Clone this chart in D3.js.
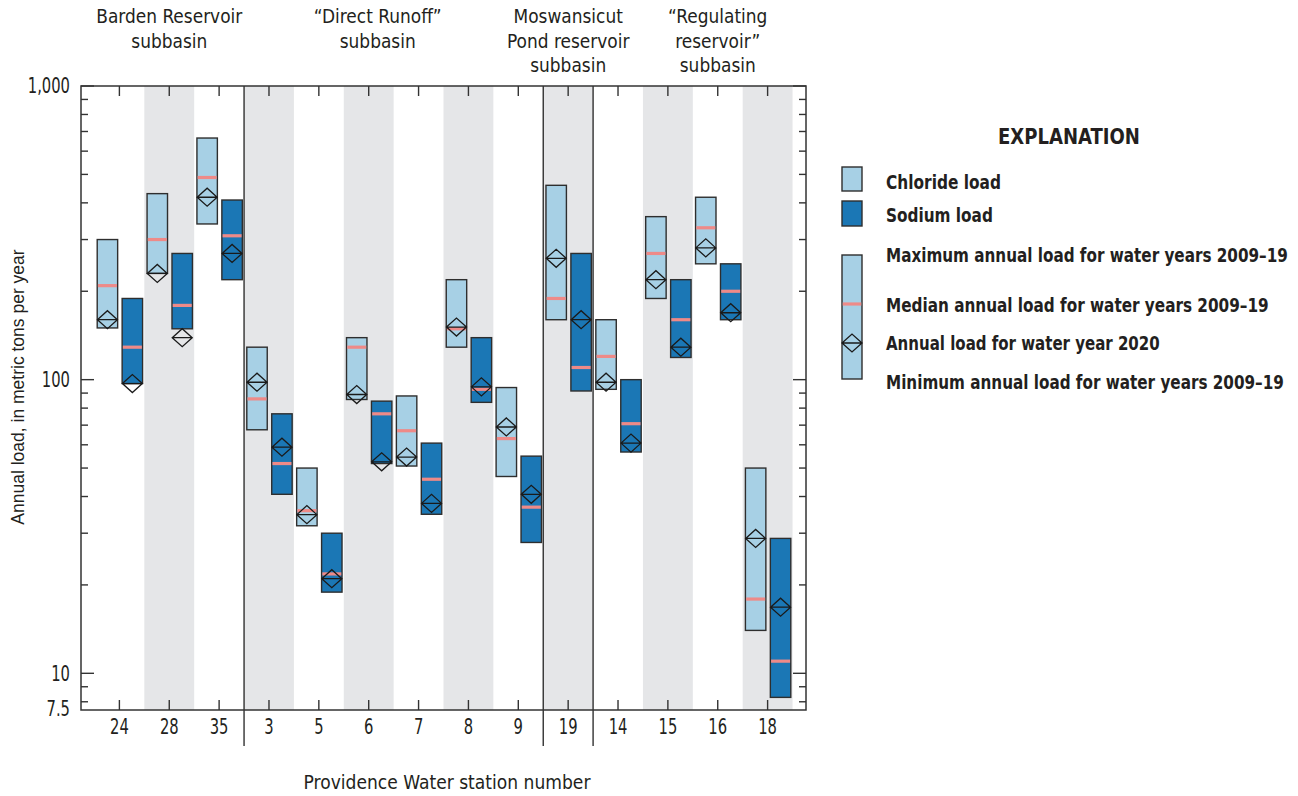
<!DOCTYPE html>
<html>
<head>
<meta charset="utf-8">
<script src="https://cdn.jsdelivr.net/npm/d3@7"></script>
<style>
  html, body { margin: 0; padding: 0; background: #fff; }
  svg { display: block; }
  text { font-family: "Liberation Sans Narrow", "DejaVu Sans Condensed", "Arial Narrow", sans-serif; fill: #231f20; }
  text.plain { font-family: "Liberation Sans", Arial, sans-serif; }
</style>
</head>
<body>
<svg id="chart" width="1298" height="796"></svg>
<script>
// Providence Water stations, in plotting order
const stations = ["24", "28", "35", "3", "5", "6", "7", "8", "9", "19", "14", "15", "16", "18"];

// Chloride load, metric tons per year
const chlorideMax    = [300, 430, 665, 129, 50, 139, 88, 219, 94, 459, 160, 359, 418, 50];
const chlorideMedian = [209, 300, 488, 86, 35.8, 129, 67, 149, 63, 189, 120, 269, 329, 17.9];
const chlorideMin    = [150, 230, 339, 67.5, 31.8, 85.6, 50.8, 129, 46.8, 160, 92.7, 189, 248, 14];
const chloride2020   = [160, 230, 418, 98, 34.7, 89, 54.5, 151, 69, 259, 98, 219, 281, 28.8];

// Sodium load, metric tons per year
const sodiumMax    = [189, 269, 409, 76.5, 30, 84.5, 60.8, 139, 54.9, 269, 100, 219, 248, 28.8];
const sodiumMedian = [129, 179, 309, 51.8, 21.8, 76.5, 45.8, 92.7, 36.8, 110, 70.8, 160, 200, 11];
const sodiumMin    = [97, 149, 219, 40.7, 18.9, 51.8, 34.8, 83.7, 27.9, 91.5, 56.7, 119, 160, 8.28];
const sodium2020   = [97, 139, 269, 58.9, 21, 52.5, 37.9, 94.5, 40.7, 160, 60.8, 129, 169, 16.8];

// Subbasin groupings
const subbasinNames  = [["Barden Reservoir", "subbasin"], ["\u201CDirect Runoff\u201D", "subbasin"],
                        ["Moswansicut", "Pond reservoir", "subbasin"], ["\u201CRegulating", "reservoir\u201D", "subbasin"]];
const subbasinFirst  = ["24", "3", "19", "14"];
const subbasinLabelAt = ["28", "6", "19", "16"];

// Y axis ticks
const yMajorTicks = [10, 100, 1000];
const yTickLabels = ["10", "100", "1,000"];
const yBottom = 7.5;

const C = {
  chloride: "#a7d0e5",
  sodium: "#1b77b5",
  stroke: "#2e2e2e",
  band: "#e5e6e8",
  median: "#ee8a88",
  axis: "#333333"
};

// Place a text at (px, py) and squeeze it horizontally, either by a factor
// or down to a given width, so a condensed face is imitated.
function place(textSel, px, py, opts) {
  textSel.attr("x", 0).attr("y", 0);
  const w = textSel.node().getComputedTextLength();
  const s = opts.width ? opts.width / w : (opts.k || 1);
  textSel.attr("transform", `translate(${px},${py}) scale(${s},1)`);
  return textSel;
}

const svg = d3.select("#chart");
const m = { left: 81, right: 806, top: 86, bottom: 710 };

const x = d3.scaleBand().domain(stations).range([m.left, m.right]).paddingInner(0).paddingOuter(0.27);
const y = d3.scaleLog().domain([yBottom, 1000]).range([m.bottom, m.top]);
const step = x.step();
const cx = s => x(s) + step / 2;
const boxW = step * 0.41;

// Alternating shaded bands
svg.append("g").selectAll("rect").data(stations.filter((s, i) => i % 2 === 1)).join("rect")
  .attr("x", s => x(s)).attr("y", m.top)
  .attr("width", step).attr("height", m.bottom - m.top)
  .attr("fill", C.band);

// Subbasin separators
const sepG = svg.append("g");
subbasinFirst.slice(1).forEach(s => {
  const sx = x(s);
  sepG.append("line").attr("x1", sx).attr("x2", sx).attr("y1", m.top).attr("y2", 746)
    .attr("stroke", "#222").attr("stroke-width", 1.3);
});

// Axis ticks, all pointing inward
const tickG = svg.append("g").attr("stroke", C.axis).attr("stroke-width", 1.4);
const minorTicks = [];
[1, 10, 100].forEach(d => { for (let k = 2; k <= 9; k++) { const v = d * k; if (v > yBottom && v < 1000 && !yMajorTicks.includes(v)) minorTicks.push(v); } });
minorTicks.forEach(v => {
  tickG.append("line").attr("x1", m.left).attr("x2", m.left + 7).attr("y1", y(v)).attr("y2", y(v));
  tickG.append("line").attr("x1", m.right).attr("x2", m.right - 7).attr("y1", y(v)).attr("y2", y(v));
});
yMajorTicks.forEach(v => {
  tickG.append("line").attr("x1", m.left).attr("x2", m.left + 13).attr("y1", y(v)).attr("y2", y(v));
  tickG.append("line").attr("x1", m.right).attr("x2", m.right - 13).attr("y1", y(v)).attr("y2", y(v));
});
stations.forEach(s => {
  tickG.append("line").attr("x1", cx(s)).attr("x2", cx(s)).attr("y1", m.top).attr("y2", m.top + 10);
  tickG.append("line").attr("x1", cx(s)).attr("x2", cx(s)).attr("y1", m.bottom).attr("y2", m.bottom - 10);
});

// Y tick labels
const yLab = svg.append("g").attr("font-size", 20.5).attr("text-anchor", "end");
yMajorTicks.forEach((v, i) => {
  place(yLab.append("text").attr("dy", "0.36em").text(yTickLabels[i]), 70, y(v), { k: 0.8 });
});
place(yLab.append("text").attr("dy", "0.36em").text("7.5"), 70, y(yBottom) - 1, { k: 0.8 });

// X tick labels
const xLab = svg.append("g").attr("font-size", 20.5).attr("text-anchor", "middle");
stations.forEach(s => place(xLab.append("text").text(s), cx(s), 734, { k: 0.8 }));

// Box groups: max–min range, median bar, 2020 diamond
function drawSeries(maxA, medA, minA, v2020, fill, offset) {
  const g = svg.append("g");
  stations.forEach((s, i) => {
    const bx = cx(s) + offset * step - boxW / 2;
    g.append("rect")
      .attr("x", bx).attr("y", y(maxA[i]))
      .attr("width", boxW).attr("height", y(minA[i]) - y(maxA[i]))
      .attr("fill", fill).attr("stroke", C.stroke).attr("stroke-width", 1.4);
    g.append("line")
      .attr("x1", bx + 0.7).attr("x2", bx + boxW - 0.7)
      .attr("y1", y(medA[i])).attr("y2", y(medA[i]))
      .attr("stroke", C.median).attr("stroke-width", 3.2);
    const dx = cx(s) + offset * step, dy = y(v2020[i]);
    g.append("path")
      .attr("d", `M${dx - 10},${dy}L${dx},${dy - 9}L${dx + 10},${dy}L${dx},${dy + 9}Z M${dx - 10},${dy}L${dx + 10},${dy}`)
      .attr("fill", "none").attr("stroke", "#1a1a1a").attr("stroke-width", 1.3);
  });
}
drawSeries(chlorideMax, chlorideMedian, chlorideMin, chloride2020, C.chloride, -0.24);
drawSeries(sodiumMax, sodiumMedian, sodiumMin, sodium2020, C.sodium, 0.26);

// Plot frame
svg.append("rect").attr("x", m.left).attr("y", m.top)
  .attr("width", m.right - m.left).attr("height", m.bottom - m.top)
  .attr("fill", "none").attr("stroke", C.axis).attr("stroke-width", 1.5);

// Subbasin headings
const headG = svg.append("g").attr("font-size", 19.5).attr("text-anchor", "middle");
const headOffsets = [0, 9, 0, 0];
subbasinNames.forEach((lines, i) => {
  const hx = cx(subbasinLabelAt[i]) + headOffsets[i];
  lines.forEach((t, j) => place(headG.append("text").text(t), hx, 23 + j * 24.5, { k: 0.97 }));
});

// Axis titles
svg.append("text").attr("class", "plain").attr("font-size", 17.5).attr("text-anchor", "middle")
  .attr("transform", "translate(24,387) rotate(-90)")
  .text("Annual load, in metric tons per year");
place(svg.append("text").attr("font-size", 19.5).attr("text-anchor", "middle")
  .text("Providence Water station number"), 447, 789, { width: 287 });

// Explanation
const lg = svg.append("g").attr("font-weight", "bold");
place(lg.append("text").attr("font-size", 21.5).text("EXPLANATION"), 998, 144, { width: 142 });
lg.append("rect").attr("x", 842).attr("y", 167).attr("width", 20).attr("height", 24)
  .attr("fill", C.chloride).attr("stroke", C.stroke).attr("stroke-width", 1.4);
lg.append("rect").attr("x", 842).attr("y", 201).attr("width", 20).attr("height", 25)
  .attr("fill", C.sodium).attr("stroke", C.stroke).attr("stroke-width", 1.4);
lg.append("rect").attr("x", 842).attr("y", 255).attr("width", 20).attr("height", 124)
  .attr("fill", C.chloride).attr("stroke", C.stroke).attr("stroke-width", 1.4);
lg.append("line").attr("x1", 842.7).attr("x2", 861.3).attr("y1", 304).attr("y2", 304)
  .attr("stroke", C.median).attr("stroke-width", 3.2);
lg.append("path").attr("d", "M842,343L852,334L862,343L852,352Z M842,343L862,343")
  .attr("fill", "none").attr("stroke", "#1a1a1a").attr("stroke-width", 1.3);
const legendLines = [
  ["Chloride load", 189, 115],
  ["Sodium load", 222, 107],
  ["Maximum annual load for water years 2009\u201319", 262, 402],
  ["Median annual load for water years 2009\u201319", 312, 383],
  ["Annual load for water year 2020", 350, 274],
  ["Minimum annual load for water years 2009\u201319", 389, 398]
];
legendLines.forEach(([t, ly, w]) =>
  place(lg.append("text").attr("font-size", 20).text(t), 886, ly, { width: w }));
</script>
</body>
</html>
